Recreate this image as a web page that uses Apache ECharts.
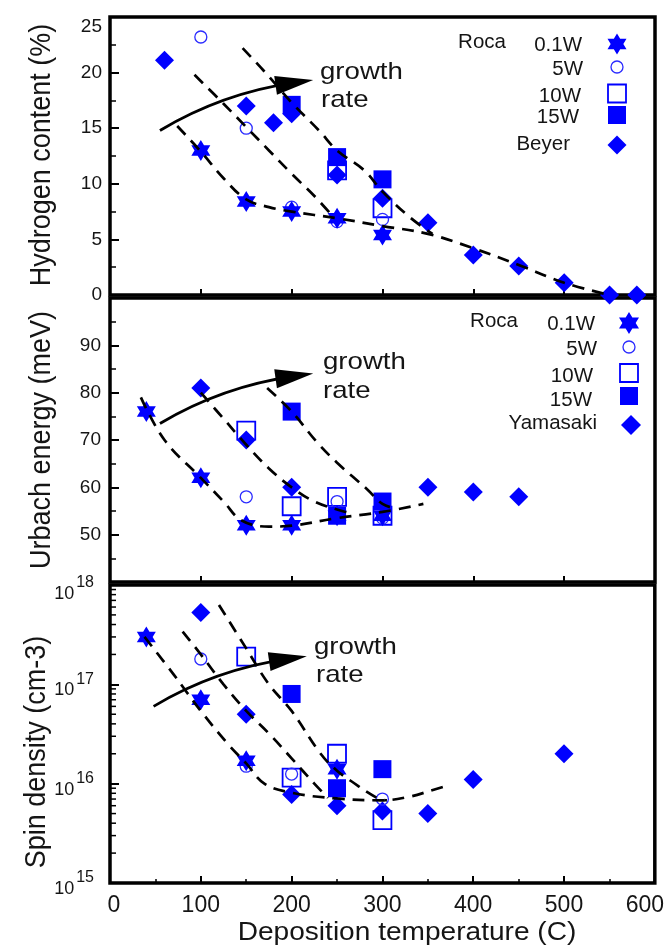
<!DOCTYPE html>
<html><head><meta charset="utf-8">
<script src="https://cdn.jsdelivr.net/npm/echarts@6/dist/echarts.min.js"></script>
<style>html,body{margin:0;padding:0;background:#fff}#c{width:667px;height:951px}</style>
</head><body><div id="c"></div>
<script>
// ---------------- data ----------------
// Panel 1: Hydrogen content (%) vs deposition temperature (C)
const h01W   = [[100,13.0],[150,8.4],[200,7.5],[250,6.9],[300,5.4]];
const h5W    = [[100,23.2],[150,15.0],[200,7.9],[250,6.6],[300,6.8]];
const h10W   = [[250,11.2],[300,7.8]];
const h15W   = [[200,17.1],[250,12.4],[300,10.4]];
const hBeyer = [[60,21.1],[150,17.0],[180,15.5],[200,16.3],[250,10.8],[300,8.7],[350,6.5],[400,3.6],[450,2.6],[500,1.1],[550,0],[580,0]];
const hGuideA = [[74,15.2],[100,12.9],[125,10.5],[150,8.6],[175,7.9],[200,7.5],[250,6.9],[300,6.2],[350,5.5],[400,4.2],[450,2.7],[500,1.1],[550,0]];
const hGuideB = [[93,19.8],[125,17.2],[150,15.1],[175,13.0],[200,10.9],[225,8.9],[245,7.1]];
const hGuideC = [[146,22.2],[170,20.1],[200,17.3],[230,14.8],[250,13.0],[280,11.2],[300,9.3],[330,7.0],[355,5.5]];
const hArrow  = [[55,14.8],[203,19.1]];

// Panel 2: Urbach energy (meV)
const u01W  = [[40,76],[100,62],[150,52],[200,52],[250,54],[300,54]];
const u5W   = [[150,58],[250,57],[300,53.5]];
const u10W  = [[150,72],[200,56],[250,58],[300,54]];
const u15W  = [[200,76],[250,54],[300,57]];
const uYama = [[100,81],[150,70],[200,60],[350,60],[400,59],[450,58]];
const uGuideA = [[34,79],[60,70],[100,62],[125,57],[145,53],[175,51.7],[200,51.9],[250,53.5],[300,54.8],[345,56.5]];
const uGuideB = [[100,80],[125,74.5],[150,69],[175,64],[200,60],[225,57],[250,55.3],[265,54.5]];
const uGuideC = [[173,81],[200,76],[228,69.5],[250,65.2],[283,59.6],[300,56.5],[315,55.5]];
const uArrow  = [[55,73.5],[203,83.5]];

// Panel 3: Spin density (cm-3), log scale
const s01W  = [[40,3.0e17],[100,7.0e16],[150,1.7e16],[250,1.4e16]];
const s5W   = [[100,1.8e17],[150,1.5e16],[200,1.25e16],[300,7.0e15]];
const s10W  = [[150,1.9e17],[200,1.15e16],[250,2.0e16],[300,4.3e15]];
const s15W  = [[200,8.0e16],[250,9.0e15],[300,1.4e16]];
const sYama = [[100,5.3e17],[150,5.0e16],[200,7.8e15],[250,6.0e15],[300,5.3e15],[350,5.0e15],[400,1.1e16],[500,2.0e16]];
const sGuideA = [[38,3.0e17],[70,1.26e17],[100,5.4e16],[130,2.5e16],[150,1.6e16],[170,1.0e16],[200,8.1e15],[250,7.1e15],[300,6.8e15],[330,7.4e15],[353,8.5e15],[375,9.8e15]];
const sGuideB = [[80,3.4e17],[100,2.0e17],[125,1.0e17],[150,5.4e16],[175,3.2e16],[200,1.8e16],[225,1.0e16],[240,7.2e15]];
const sGuideC = [[120,6.3e17],[150,2.3e17],[175,1.0e17],[200,5.4e16],[232,2.0e16],[250,1.35e16],[265,1.07e16],[294,7.2e15],[305,6.8e15]];
const sArrow  = [[48,6.0e16],[196,1.8e17]];

const xTickValues = [0,100,200,300,400,500,600];
const logMinorMult = [2,3,4,5,6,7,8,9];
const logDecades = [15,16,17];

// ---------------- styles ----------------
const BLUE = '#0000ff';
const INK = '#151515';
const FONT = '"Liberation Sans", Arial, sans-serif';
const STAR = 'path://M0,-100L28.9,-50L86.6,-50L57.7,0L86.6,50L28.9,50L0,100L-28.9,50L-86.6,50L-57.7,0L-86.6,-50L-28.9,-50Z';
const ST = {
  w01: {symbol: STAR, symbolSize: [19,21], itemStyle: {color: BLUE, opacity: 1}},
  w5:  {symbol: 'circle', symbolSize: 12, itemStyle: {color: 'rgba(255,255,255,0)', borderColor: '#2b2bff', borderWidth: 1.3, opacity: 1}},
  w10: {symbol: 'rect', symbolSize: 18, itemStyle: {color: 'rgba(255,255,255,0)', borderColor: BLUE, borderWidth: 1.8, opacity: 1}},
  w15: {symbol: 'rect', symbolSize: 18, itemStyle: {color: BLUE, opacity: 1}},
  dia: {symbol: 'diamond', symbolSize: 19, itemStyle: {color: BLUE, opacity: 1}}
};
function scatter(i, data, st) {
  return Object.assign({type: 'scatter', xAxisIndex: i, yAxisIndex: i, data: data, clip: false, silent: true, z: 2}, st);
}
function guide(i, data) {
  return {type: 'line', xAxisIndex: i, yAxisIndex: i, data: data, smooth: 0.4, symbol: 'none', clip: false, z: 4, silent: true,
    lineStyle: {color: '#000', width: 2.7, type: [12, 8]}};
}
function arrow(i, pts) {
  return {type: 'lines', coordinateSystem: 'cartesian2d', xAxisIndex: i, yAxisIndex: i, z: 5, silent: true,
    symbol: ['none', 'triangle'], symbolSize: [0, [19, 38]],
    lineStyle: {color: '#000', width: 2.8, curveness: 0.1, opacity: 1},
    data: [{coords: pts}]};
}

const gridBase = {left: 110, width: 545, show: true, borderColor: '#000', borderWidth: 3.5, backgroundColor: 'rgba(0,0,0,0)'};
const grids = [
  Object.assign({top: 17, height: 278}, gridBase),
  Object.assign({top: 298, height: 284}, gridBase),
  Object.assign({top: 585, height: 298}, gridBase)
];

function xAxis(i, labels) {
  return {type: 'value', gridIndex: i, min: 0, max: 600, interval: 100,
    axisLine: {show: false}, splitLine: {show: false},
    axisTick: {show: true, inside: true, length: labels ? 7 : 6, lineStyle: {color: '#000', width: 2}},
    minorTick: {show: labels, splitNumber: 2, length: 4, lineStyle: {color: '#000', width: 1.5}},
    axisLabel: {show: labels, margin: 11, fontSize: 23, fontFamily: FONT, color: INK,
      formatter: function (v) { return v === 0 ? '{l|0}' : (v === 600 ? '{r|600}' : String(v)); },
      rich: {l: {fontSize: 23, fontFamily: FONT, color: INK, padding: [0, 0, 0, 8]},
             r: {fontSize: 23, fontFamily: FONT, color: INK, padding: [0, 20, 0, 0]}}}
  };
}
const yLabelBase = {fontSize: 19, fontFamily: FONT, color: INK, margin: 8};
const yAxes = [
  {type: 'value', gridIndex: 0, min: 0, max: 25, interval: 5,
    axisLine: {show: false}, splitLine: {show: false},
    axisTick: {inside: true, length: 9, lineStyle: {color: '#000', width: 2}},
    minorTick: {show: true, splitNumber: 2, length: 6, lineStyle: {color: '#000', width: 1.5}},
    axisLabel: Object.assign({}, yLabelBase, {
      formatter: function (v) { return v === 25 ? '{t|25}' : String(v); },
      rich: {t: {fontSize: 19, fontFamily: FONT, color: INK, padding: [20, 0, 0, 0]}}})},
  {type: 'value', gridIndex: 1, min: 40, max: 100, interval: 10,
    axisLine: {show: false}, splitLine: {show: false},
    axisTick: {inside: true, length: 9, lineStyle: {color: '#000', width: 2}},
    minorTick: {show: true, splitNumber: 2, length: 6, lineStyle: {color: '#000', width: 1.5}},
    axisLabel: Object.assign({}, yLabelBase, {margin: 9,
      formatter: function (v) { return (v <= 40 || v >= 100) ? '' : String(v); }})},
  {type: 'log', logBase: 10, gridIndex: 2, min: 1e15, max: 1e18,
    axisLine: {show: false}, splitLine: {show: false},
    axisTick: {inside: true, length: 9, lineStyle: {color: '#000', width: 2}},
    minorTick: {show: false},
    axisLabel: {margin: 16, fontFamily: FONT, color: INK,
      formatter: function (v) {
        const e = Math.round(Math.log10(v));
        return e === 18 ? '{b2|10}{s2|' + e + '}' : '{b|10}{s|' + e + '}';
      },
      rich: {
        b:  {fontSize: 18, fontFamily: FONT, color: INK, padding: [12, 0, 0, 0], verticalAlign: 'bottom'},
        s:  {fontSize: 16, fontFamily: FONT, color: INK, padding: [0, 0, 12, 2], verticalAlign: 'bottom'},
        b2: {fontSize: 18, fontFamily: FONT, color: INK, padding: [18, 0, 0, 0], verticalAlign: 'bottom'},
        s2: {fontSize: 16, fontFamily: FONT, color: INK, padding: [0, 0, 12, 2], verticalAlign: 'bottom'}
      }}}
];

// log minor tick marks drawn as tiny scatter marks at the left border
const logMinorTicks = [];
logDecades.forEach(function (d) { logMinorMult.forEach(function (m) { logMinorTicks.push([0, m * Math.pow(10, d)]); }); });

const series = [
  // panel 1
  scatter(0, hBeyer, ST.dia), scatter(0, h10W, ST.w10), scatter(0, h5W, ST.w5), scatter(0, h15W, ST.w15), scatter(0, h01W, ST.w01),
  guide(0, hGuideA), guide(0, hGuideB), guide(0, hGuideC), arrow(0, hArrow),
  // panel 2
  scatter(1, uYama, ST.dia), scatter(1, u10W, ST.w10), scatter(1, u5W, ST.w5), scatter(1, u15W, ST.w15), scatter(1, u01W, ST.w01),
  guide(1, uGuideA), guide(1, uGuideB), guide(1, uGuideC), arrow(1, uArrow),
  // panel 3
  scatter(2, sYama, ST.dia), scatter(2, s10W, ST.w10), scatter(2, s5W, ST.w5), scatter(2, s15W, ST.w15), scatter(2, s01W, ST.w01),
  guide(2, sGuideA), guide(2, sGuideB), guide(2, sGuideC), arrow(2, sArrow),
  {type: 'scatter', xAxisIndex: 2, yAxisIndex: 2, data: logMinorTicks, symbol: 'rect', symbolSize: [6, 1.5], symbolOffset: [3, 0],
    itemStyle: {color: '#000', opacity: 1}, clip: false, silent: true, z: 3}
];

// ---------------- legend / annotations (graphic) ----------------
function txt(x, y, s, size, align, extra) {
  return Object.assign({type: 'text', x: x, y: y, silent: true, z: 10,
    style: {text: s, fontSize: size, fontFamily: FONT, fill: INK, align: align, verticalAlign: 'middle'}}, extra || {});
}
function starShape(cx, cy, w, h) {
  const p = [[0,-1],[0.289,-0.5],[0.866,-0.5],[0.577,0],[0.866,0.5],[0.289,0.5],[0,1],[-0.289,0.5],[-0.866,0.5],[-0.577,0],[-0.866,-0.5],[-0.289,-0.5]];
  return {type: 'polygon', silent: true, z: 10, shape: {points: p.map(function (q) { return [cx + q[0] / 0.866 * w / 2, cy + q[1] * h / 2]; })}, style: {fill: BLUE}};
}
function diamondShape(cx, cy, w, h) {
  return {type: 'polygon', silent: true, z: 10, shape: {points: [[cx, cy - h / 2], [cx + w / 2, cy], [cx, cy + h / 2], [cx - w / 2, cy]]}, style: {fill: BLUE}};
}
function rectShape(cx, cy, s, filled) {
  return {type: 'rect', silent: true, z: 10, shape: {x: cx - s / 2, y: cy - s / 2, width: s, height: s},
    style: filled ? {fill: BLUE} : {fill: 'rgba(0,0,0,0)', stroke: BLUE, lineWidth: 1.8}};
}
function circleShape(cx, cy, r) {
  return {type: 'circle', silent: true, z: 10, shape: {cx: cx, cy: cy, r: r}, style: {fill: 'rgba(0,0,0,0)', stroke: '#2b2bff', lineWidth: 1.3}};
}
const LEG = 20.5;
const graphics = [
  // panel 1 legend
  txt(482, 42, 'Roca', LEG, 'center'),
  txt(582, 45, '0.1W', LEG, 'right'), txt(583, 69, '5W', LEG, 'right'), txt(581, 96, '10W', LEG, 'right'),
  txt(579, 117, '15W', LEG, 'right'), txt(570, 144, 'Beyer', LEG, 'right'),
  starShape(617, 44, 19, 21), circleShape(617, 67, 6), rectShape(617, 93.5, 18, false), rectShape(617, 115, 18, true), diamondShape(617, 145, 19, 19),
  // panel 2 legend
  txt(494, 321, 'Roca', LEG, 'center'),
  txt(595, 324, '0.1W', LEG, 'right'), txt(597, 349, '5W', LEG, 'right'), txt(593, 376, '10W', LEG, 'right'),
  txt(592, 400, '15W', LEG, 'right'), txt(597, 423, 'Yamasaki', LEG, 'right'),
  starShape(629, 323, 20, 22), circleShape(629, 347, 6), rectShape(629, 373, 18, false), rectShape(629, 396, 18, true), diamondShape(631, 425, 20, 20),
  // growth rate labels
  txt(320, 72, 'growth', 24, 'left', {scaleX: 1.15}), txt(321, 100, 'rate', 24, 'left', {scaleX: 1.15}),
  txt(323, 362, 'growth', 24, 'left', {scaleX: 1.15}), txt(323, 391, 'rate', 24, 'left', {scaleX: 1.15}),
  txt(314, 647, 'growth', 24, 'left', {scaleX: 1.15}), txt(316, 675, 'rate', 24, 'left', {scaleX: 1.15}),
  // axis titles
  txt(42, 155, 'Hydrogen content (%)', 27, 'center', {rotation: Math.PI / 2, scaleY: 1.1}),
  txt(42, 440, 'Urbach energy (meV)', 27, 'center', {rotation: Math.PI / 2, scaleY: 1.1}),
  txt(37, 752, 'Spin density (cm-3)', 27, 'center', {rotation: Math.PI / 2, scaleY: 1.1}),
  txt(407, 933, 'Deposition temperature (C)', 26, 'center', {scaleX: 1.08})
];

const chart = echarts.init(document.getElementById('c'), null, {renderer: 'canvas'});
chart.setOption({
  animation: false,
  backgroundColor: '#fff',
  grid: grids,
  xAxis: [xAxis(0, false), xAxis(1, false), xAxis(2, true)],
  yAxis: yAxes,
  series: series,
  graphic: graphics
});
</script></body></html>
